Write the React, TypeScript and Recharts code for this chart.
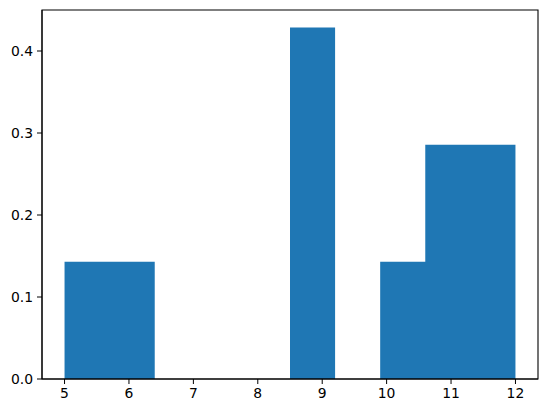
import React from "react";
import { ComposedChart, Area, XAxis, YAxis, ReferenceArea } from "recharts";

const binEdges = [5, 5.7, 6.4, 7.1, 7.8, 8.5, 9.2, 9.9, 10.6, 11.3, 12];
const densities = [0.1429, 0.1429, 0, 0, 0, 0.4286, 0, 0.1429, 0.2857, 0.2857];
const xTicks = [5, 6, 7, 8, 9, 10, 11, 12];
const yTicks = [0, 0.1, 0.2, 0.3, 0.4];
const xDomain: [number, number] = [4.65, 12.35];
const yDomain: [number, number] = [0, 0.45];

const data = binEdges.map((e, i) => ({ x: e, y: i < densities.length ? densities[i] : 0 }));

const font = { fontFamily: "DejaVu Sans", fontSize: 13.9, fill: "#000" };

export default function App() {
  return (
    <div style={{ position: "absolute", left: 0, top: 0, background: "#fff" }}>
      <ComposedChart width={547} height={413} data={data} margin={{ top: 10, right: 9, bottom: 0, left: 0 }}>
        <XAxis
          dataKey="x"
          type="number"
          domain={xDomain}
          ticks={xTicks}
          height={34}
          tick={font}
          tickSize={5}
          tickMargin={4}
          stroke="#000"
          allowDataOverflow
        />
        <YAxis
          type="number"
          domain={yDomain}
          ticks={yTicks}
          width={42}
          tick={font}
          tickSize={5}
          tickMargin={4}
          tickFormatter={(v: number) => v.toFixed(1)}
          stroke="#000"
          allowDataOverflow
        />
        <Area
          dataKey="y"
          type="stepAfter"
          fill="#1f77b4"
          fillOpacity={1}
          stroke="none"
          isAnimationActive={false}
          dot={false}
          activeDot={false}
        />
        <ReferenceArea
          x1={xDomain[0]}
          x2={xDomain[1]}
          y1={yDomain[0]}
          y2={yDomain[1]}
          fill="none"
          fillOpacity={0}
          stroke="#000"
          strokeWidth={1.1}
          ifOverflow="visible"
        />
      </ComposedChart>
    </div>
  );
}
